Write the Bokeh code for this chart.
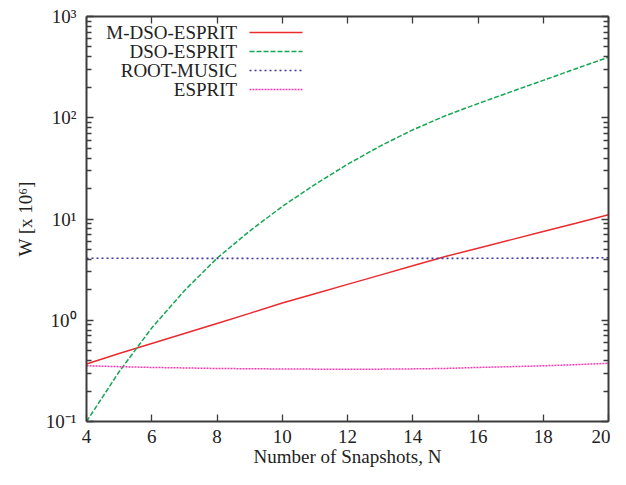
from bokeh.plotting import figure
from bokeh.models import (LogAxis, LinearAxis, FixedTicker, Arrow, Label, Range1d)
from bokeh.embed import file_html
from bokeh.resources import INLINE

# ---------------- data ----------------
snapshots = [4, 5, 6, 7, 8, 9, 10, 11, 12, 13, 14, 15, 16, 17, 18, 19, 20]
m_dso_esprit = [0.37, 0.47, 0.59, 0.74, 0.93, 1.17, 1.48, 1.83, 2.26, 2.79,
                3.45, 4.27, 5.15, 6.22, 7.52, 9.08, 11.0]
dso_esprit = [0.10, 0.31, 0.84, 1.96, 4.1, 7.6, 13.3, 21.9, 34.7, 52.5,
              75.9, 104.7, 138.0, 180.0, 234.0, 305.0, 396.0]
root_music = [4.10, 4.10, 4.09, 4.09, 4.08, 4.08, 4.07, 4.07, 4.07, 4.07,
              4.08, 4.08, 4.09, 4.10, 4.11, 4.12, 4.14]
esprit = [0.355, 0.348, 0.342, 0.338, 0.334, 0.332, 0.330, 0.329, 0.328,
          0.329, 0.331, 0.334, 0.342, 0.348, 0.355, 0.364, 0.376]

series_names = ["M-DSO-ESPRIT", "DSO-ESPRIT", "ROOT-MUSIC", "ESPRIT"]
x_ticks = [4, 6, 8, 10, 12, 14, 16, 18, 20]
y_ticks = [0.1, 1, 10, 100, 1000]
y_tick_labels = ["10\u207b\u00b9", "10\u2070", "10\u00b9", "10\u00b2", "10\u00b3"]
x_label = "Number of Snapshots, N"
y_label = "W [x 10\u2076]"

# ---------------- styles ----------------
FONT = "Liberation Serif"
FS = "19px"
AX_COL = "#3c3c3c"
TXT_COL = "#222222"
colors = ["#ea2a2e", "#14a652", "#3a3aa6", "#f03cb0"]
dashes = ["solid", "5 2", "2 3", "2 1"]
widths = [1.5, 1.5, 1.6, 1.5]

p = figure(width=610, height=469,
           x_range=Range1d(4, 20), y_range=Range1d(0.1, 1000),
           y_axis_type="log", output_backend="svg", toolbar_location=None,
           min_border_left=86, min_border_right=2, min_border_top=16,
           min_border_bottom=48)
p.outline_line_color = None
p.xgrid.visible = False
p.ygrid.visible = False
p.background_fill_color = "white"
p.border_fill_color = "white"

minor_y = []
for e in range(-1, 3):
    for k in range(2, 10):
        minor_y.append(k * 10.0 ** e)

xticker = FixedTicker(ticks=x_ticks, minor_ticks=[])
yticker = FixedTicker(ticks=y_ticks, minor_ticks=minor_y)

bottom_ax = p.below[0]
left_ax = p.left[0]
bottom_ax.ticker = xticker
left_ax.ticker = yticker
left_ax.major_label_overrides = {t: l for t, l in zip(y_ticks, y_tick_labels)}
bottom_ax.axis_label = x_label
left_ax.axis_label = y_label

top_ax = LinearAxis(ticker=xticker)
right_ax = LogAxis(ticker=yticker)
p.add_layout(top_ax, "above")
p.add_layout(right_ax, "right")

for ax in [bottom_ax, left_ax, top_ax, right_ax]:
    ax.axis_line_color = AX_COL
    ax.axis_line_width = 2
    ax.major_tick_line_color = AX_COL
    ax.major_tick_line_width = 1.3
    ax.minor_tick_line_color = AX_COL
    ax.minor_tick_line_width = 1.3
    ax.major_tick_in = 7
    ax.major_tick_out = 0
    ax.minor_tick_in = 5
    ax.minor_tick_out = 0
    ax.major_label_text_font = FONT
    ax.major_label_text_font_size = FS
    ax.major_label_text_color = TXT_COL
    ax.axis_label_text_font = FONT
    ax.axis_label_text_font_size = FS
    ax.axis_label_text_font_style = "normal"
    ax.axis_label_text_color = TXT_COL

for ax in [top_ax, right_ax]:
    ax.major_label_text_font_size = "1px"
    ax.major_label_text_alpha = 0
    ax.major_label_standoff = 0

bottom_ax.major_label_standoff = 8
bottom_ax.axis_label_standoff = 0
left_ax.major_label_standoff = 10
left_ax.axis_label_standoff = 7

series = [m_dso_esprit, dso_esprit, root_music, esprit]
for vals, c, d, w in zip(series, colors, dashes, widths):
    p.line(snapshots, vals, line_color=c, line_dash=d, line_width=w)

# legend in gnuplot style: text on the left, line sample on the right
row_y = [389, 370, 351, 332]
for name, yy, c, d, w in zip(series_names, row_y, colors, dashes, widths):
    p.add_layout(Label(x=150.7, y=yy, x_units="screen", y_units="screen",
                       text=name, text_align="right", text_baseline="middle",
                       text_font=FONT, text_font_size=FS,
                       text_color=TXT_COL))
    p.add_layout(Arrow(end=None, start=None,
                       x_start=163, y_start=yy, x_end=216, y_end=yy,
                       start_units="screen", end_units="screen",
                       line_color=c, line_dash=d, line_width=w))

html = file_html(p, INLINE)
with open("out.html", "w") as f:
    f.write(html)
